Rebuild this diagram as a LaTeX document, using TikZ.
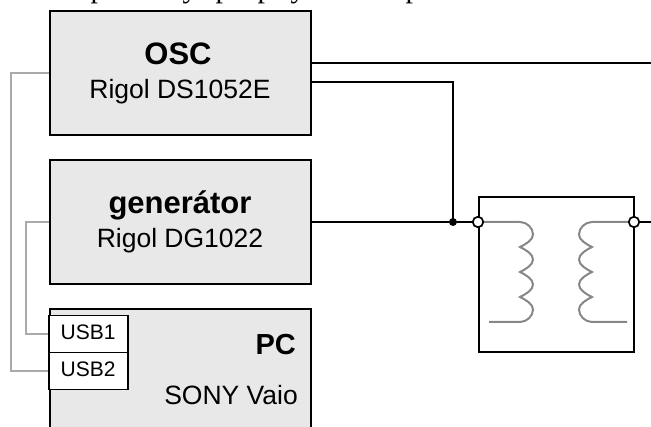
\documentclass[tikz,border=0pt]{standalone}
\usepackage{fontspec}
\setmainfont{Liberation Sans}
\newfontfamily\serifclip{Liberation Serif}
\definecolor{boxfill}{RGB}{232,232,232}
\definecolor{usbwire}{RGB}{170,170,170}
\definecolor{coilc}{RGB}{135,135,135}
\tikzset{
  devbox/.style={draw=black,fill=boxfill,line width=1.9pt,inner sep=0pt},
  usbbox/.style={draw=black,fill=white,line width=1.6pt,minimum width=79pt,minimum height=37pt,inner sep=0pt},
  usbtext/.style={font=\fontsize{21}{23}\selectfont,inner sep=0pt,anchor=base west},
  wire/.style={draw=black,line width=2pt},
  usbline/.style={draw=usbwire,line width=1.9pt},
  coil/.style={draw=coilc,line width=2pt},
  term/.style={circle,draw=black,fill=white,line width=1.7pt,minimum size=10.5pt,inner sep=0pt},
  junc/.style={circle,fill=black,minimum size=8pt,inner sep=0pt},
  bigt/.style={font=\fontsize{31}{33}\selectfont\bfseries,inner sep=0pt,anchor=base},
  smallt/.style={font=\fontsize{26.5}{28}\selectfont,inner sep=0pt,anchor=base},
  cliptext/.style={font=\fontsize{30}{32}\serifclip\selectfont,inner sep=0pt,anchor=base}
}
\begin{document}
\begin{tikzpicture}[x=1pt,y=-1pt]
\useasboundingbox (0,0) rectangle (651,427);
\begin{scope}
\clip (0,0) rectangle (651,4.5);
\node[cliptext] (ta) at (98,-2.5) {p};
\node[cliptext] (tb) at (190,-2.5) {y};
\node[cliptext] (tc) at (223,-2.5) {p};
\node[cliptext] (td) at (265,-2.5) {p};
\node[cliptext] (te) at (298,-2.5) {y};
\node[cliptext] (tf) at (413,-2.5) {p};
\end{scope}
\begin{scope}
\clip (0,0) rectangle (651,427);
\node[devbox,minimum width=261pt,minimum height=124pt] (oscbox) at (180.5,73) {};
\node[devbox,minimum width=261pt,minimum height=124pt] (genbox) at (180.5,222) {};
\node[devbox,minimum width=261pt,minimum height=140pt] (pcbox) at (180.5,379) {};
\end{scope}
\node[bigt] (osct) at (178,65) {OSC};
\node[smallt] (oscs) at (180,99) {Rigol DS1052E};
\node[bigt] (gent) at (180,214) {generátor};
\node[smallt] (gens) at (180,248) {Rigol DG1022};
\node[bigt,anchor=base east,font=\fontsize{29}{31}\selectfont\bfseries] (pct) at (296,355) {PC};
\node[smallt,anchor=base east] (pcs) at (298,405) {SONY Vaio};
\node[usbbox] (usba) at (88.5,334) {};
\node[usbbox] (usbb) at (88.5,371) {};
\node[usbtext] (usbat) at (60.5,340) {USB1};
\node[usbtext] (usbbt) at (60.5,377) {USB2};
\coordinate (oscusb) at (oscbox.west |- 0,73);
\coordinate (genusb) at (genbox.west |- 0,222);
\coordinate (usbaw) at (usba.west |- 0,334);
\coordinate (usbbw) at (usbb.west |- 0,371);
\draw[usbline] (oscusb) -- (11,73) -- (11,371) -- (usbbw);
\draw[usbline] (genusb) -- (26,222) -- (26,334) -- (usbaw);
\coordinate (oscA) at (oscbox.east |- 0,63);
\coordinate (oscB) at (oscbox.east |- 0,82);
\coordinate (genO) at (genbox.east |- 0,222);
\coordinate (rightA) at (651,63);
\coordinate (rightB) at (651,222);
\node[junc] (jn) at (453,222) {};
\node[draw=black,line width=2pt,minimum width=155pt,minimum height=155pt,inner sep=0pt] (xf) at (556.5,274.5) {};
\node[term] (t1) at (478,222) {};
\node[term] (t2) at (634,222) {};
\draw[wire] (oscA) -- (rightA);
\draw[wire] (oscB) -- (453,82) -- (jn.center);
\draw[wire] (genO) -- (jn) -- (t1);
\draw[wire] (t2) -- (rightB);
\draw[coil] (t1) -- (520,222)
  .. controls (527,222) and (533,228) .. (533,234.5)
  .. controls (533,240) and (526,244) .. (520,247)
  .. controls (526,250) and (533,254) .. (533,259.5)
  .. controls (533,265) and (526,269) .. (520,272)
  .. controls (526,275) and (533,279) .. (533,284.5)
  .. controls (533,290) and (526,294) .. (520,297)
  .. controls (526,300) and (533,304) .. (533,309.5)
  .. controls (533,316) and (527,322) .. (520,322) -- (489,322);
\draw[coil] (t2) -- (592,222)
  .. controls (585,222) and (579,228) .. (579,234.5)
  .. controls (579,240) and (586,244) .. (592,247)
  .. controls (586,250) and (579,254) .. (579,259.5)
  .. controls (579,265) and (586,269) .. (592,272)
  .. controls (586,275) and (579,279) .. (579,284.5)
  .. controls (579,290) and (586,294) .. (592,297)
  .. controls (586,300) and (579,304) .. (579,309.5)
  .. controls (579,316) and (585,322) .. (592,322) -- (627,322);
\end{tikzpicture}
\end{document}
